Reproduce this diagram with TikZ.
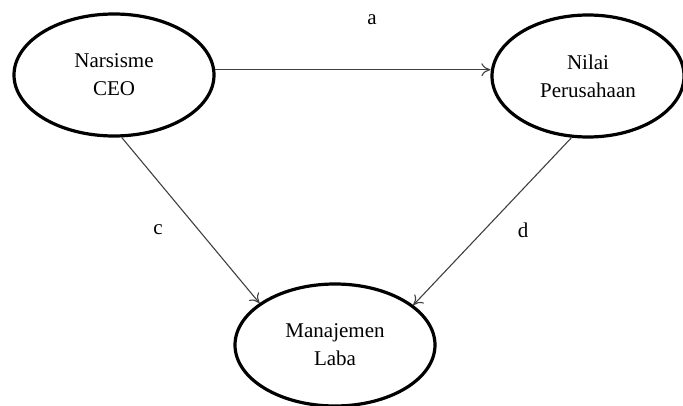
\documentclass[tikz,border=0pt]{standalone}
\usepackage{fontspec}
\setmainfont{Liberation Serif}
\usetikzlibrary{shapes.geometric,arrows.meta}
\begin{document}
\begin{tikzpicture}[x=1pt,y=-1pt,
  var/.style={ellipse,draw=black,line width=3.2pt,minimum width=200pt,minimum height=122pt,inner sep=0pt,align=center,font=\fontsize{21}{28}\selectfont},
  conn/.style={draw=black!75,line width=1.1pt,-{To[length=9pt,width=13pt]}},
  lbl/.style={font=\fontsize{21}{28}\selectfont,inner sep=0pt}]
\useasboundingbox (0,0) rectangle (683,406);
\node[var] (ceo) at (114,75) {Narsisme\\CEO};
\node[var, minimum width=192pt] (nilai) at (588,76) {Nilai\\Perusahaan};
\node[var] (laba) at (335,345) {Manajemen\\Laba};
\draw[conn] (ceo.3) -- (nilai.west |- ceo.3);
\draw[conn] (ceo.-83) -- (laba.151);
\draw[conn] (nilai.-105) -- (laba.27);
\node[lbl] (la) at (372,20) {a};
\node[lbl] (lc) at (158,230) {c};
\node[lbl] (ld) at (523,230) {d};
\end{tikzpicture}
\end{document}
